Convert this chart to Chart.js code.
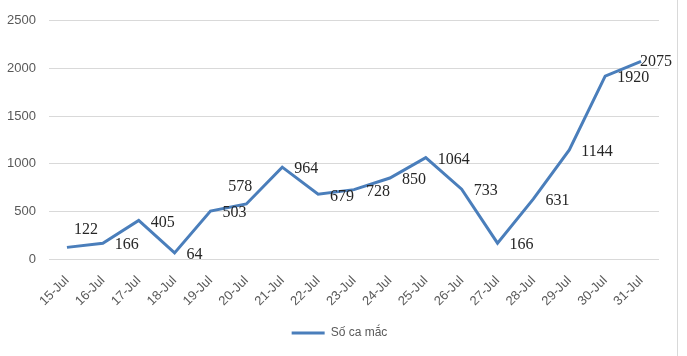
<!DOCTYPE html>
<html>
<head>
<meta charset="utf-8">
<script src="https://cdn.jsdelivr.net/npm/chart.js@4"></script>
<style>
html,body{margin:0;padding:0;background:#fff;}
#wrap{position:relative;width:687px;height:356px;}
</style>
</head>
<body>
<div id="wrap"><canvas id="c" width="687" height="356"></canvas></div>
<script>
const categories = ['15-Jul','16-Jul','17-Jul','18-Jul','19-Jul','20-Jul','21-Jul','22-Jul','23-Jul','24-Jul','25-Jul','26-Jul','27-Jul','28-Jul','29-Jul','30-Jul','31-Jul'];
const cases = [122,166,405,64,503,578,964,679,728,850,1064,733,166,631,1144,1920,2075];
const seriesName = 'Số ca mắc';
const yTicks = [0,500,1000,1500,2000,2500];
// label placement (style only): 'r' right, 'a' above-right, 'l' above-left, 'o' overlap-right
const labelPlacement = ['a','r','r','r','r','l','r','r','r','r','r','r','r','r','r','r','o'];

const labelPlugin = {
  id: 'valueLabels',
  afterDatasetsDraw(chart) {
    const ctx = chart.ctx;
    const meta = chart.getDatasetMeta(0);
    ctx.save();
    ctx.font = '16px "Liberation Serif", "Times New Roman", serif';
    ctx.fillStyle = '#262626';
    ctx.textBaseline = 'middle';
    meta.data.forEach((pt, i) => {
      const txt = String(cases[i]);
      const p = labelPlacement[i];
      let x = pt.x, y = pt.y;
      if (p === 'r') { ctx.textAlign = 'left'; x += 12; y += 2; }
      else if (p === 'a') { ctx.textAlign = 'center'; x += 19; y -= 18; }
      else if (p === 'l') { ctx.textAlign = 'center'; x -= 6; y -= 17; }
      else { ctx.textAlign = 'left'; x -= 1; y += 1; }
      ctx.fillText(txt, x, y);
    });
    ctx.restore();
  }
};

const borderPlugin = {
  id: 'rightBorder',
  afterLayout(chart) {
    if (chart.legend) { chart.legend.left += 10; chart.legend.right += 10; }
  },
  afterDraw(chart) {
    const ctx = chart.ctx;
    ctx.save();
    ctx.strokeStyle = '#d9d9d9';
    ctx.lineWidth = 1;
    ctx.beginPath();
    ctx.moveTo(677.5, 0);
    ctx.lineTo(677.5, chart.height);
    ctx.stroke();
    ctx.restore();
  }
};

new Chart(document.getElementById('c'), {
  type: 'line',
  data: {
    labels: categories,
    datasets: [{
      label: seriesName,
      data: cases,
      borderColor: '#4a7ebb',
      backgroundColor: '#4a7ebb',
      borderWidth: 3,
      pointRadius: 0,
      tension: 0,
      fill: false
    }]
  },
  options: {
    responsive: false,
    animation: false,
    devicePixelRatio: 1,
    layout: { padding: { left: 0, right: 28, top: 18, bottom: 7 } },
    plugins: {
      tooltip: { enabled: false },
      legend: {
        position: 'bottom',
        labels: {
          usePointStyle: true,
          pointStyle: 'line',
          pointStyleWidth: 33,
          color: '#595959',
          font: { family: '"Liberation Sans", Arial, sans-serif', size: 12 },
          padding: 10
        }
      }
    },
    scales: {
      x: {
        offset: true,
        grid: { display: false, drawTicks: false },
        border: { display: false },
        ticks: {
          color: '#595959',
          font: { family: '"Liberation Sans", Arial, sans-serif', size: 13 },
          maxRotation: 45, minRotation: 45,
          padding: 14,
          autoSkip: false
        },
        afterFit(axis) { axis.height = 58; }
      },
      y: {
        min: 0, max: 2500,
        afterBuildTicks(axis) { axis.ticks = yTicks.map(v => ({ value: v })); },
        grid: { color: '#d9d9d9', lineWidth: 1, drawTicks: false },
        border: { display: false },
        ticks: {
          color: '#595959',
          font: { family: '"Liberation Sans", Arial, sans-serif', size: 13 },
          padding: 13,
          callback: (v) => String(v)
        },
        afterFit(axis) { axis.width = 49; }
      }
    }
  },
  plugins: [labelPlugin, borderPlugin]
});
</script>
</body>
</html>
